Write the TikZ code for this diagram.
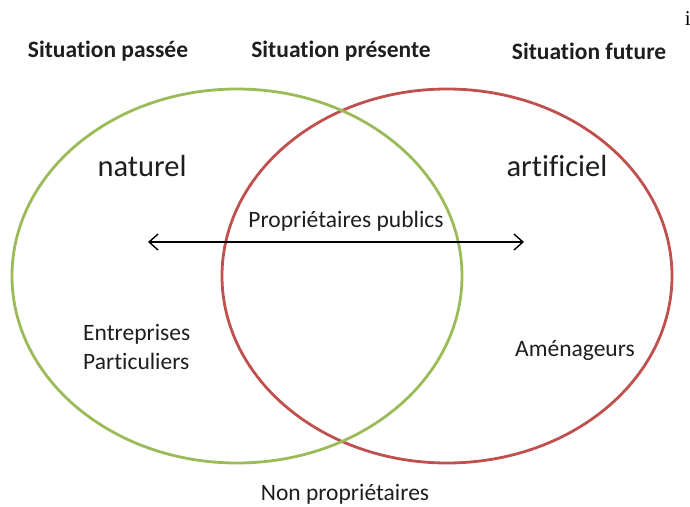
\documentclass[tikz,border=0pt]{standalone}
\usepackage{fontspec}
\setmainfont{Carlito}[Ligatures={NoCommon}]
\newfontfamily\serifi{Liberation Serif}
\usetikzlibrary{arrows.meta}
\definecolor{vgreen}{HTML}{9BBB59}
\definecolor{vred}{HTML}{C0504D}
\definecolor{txt}{HTML}{1E1E1E}
\tikzset{
  setring/.style={line width=2.8pt},
  head/.style={font=\fontsize{23.5}{26}\selectfont\bfseries, text=txt, inner sep=0pt},
  lbl/.style={font=\fontsize{23.5}{29}\selectfont, text=txt, inner sep=0pt},
  big/.style={font=\fontsize{30.5}{34}\selectfont, text=txt, inner sep=0pt},
  link/.style={line width=1.4pt, {Straight Barb[length=9pt,width=16pt]}-{Straight Barb[length=9pt,width=16pt]}}
}
\begin{document}
\begin{tikzpicture}[x=1pt,y=-1pt]
\useasboundingbox (0,0) rectangle (690,506);
\draw[setring, vred] (447,276) ellipse [x radius=225, y radius=187];
\draw[setring, vgreen] (237,276) ellipse [x radius=225, y radius=187];
\node[head] (past) at (108,51) {Situation passée};
\node[head] (present) at (341,51) {Situation présente};
\node[head] (future) at (589,51) {Situation future};
\node[font=\serifi\fontsize{21}{23}\selectfont, inner sep=0pt, anchor=east] (ii) at (691,19) {i};
\node[big] (nat) at (142,166) {naturel};
\node[big] (art) at (557,166) {artificiel};
\node[lbl] (pub) at (346,221) {Propriétaires publics};
\node[lbl, anchor=west, align=left] (ent) at (83,347) {Entreprises\\Particuliers};
\node[lbl] (amen) at (575,350) {Aménageurs};
\node[lbl] (nonp) at (345,494) {Non propriétaires};
\coordinate (L) at (148,242);
\coordinate (R) at (524,242);
\draw[link] (L) -- (R);
\end{tikzpicture}
\end{document}
